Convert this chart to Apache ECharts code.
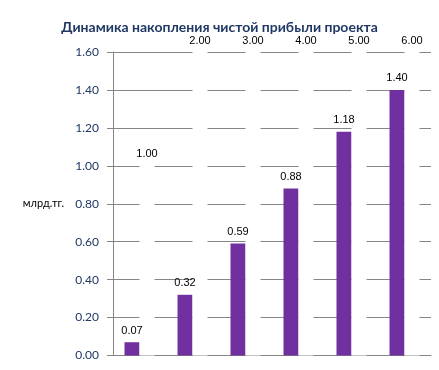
<!DOCTYPE html>
<html><head><meta charset="utf-8">
<script src="https://cdn.jsdelivr.net/npm/echarts@6/dist/echarts.min.js"></script>
<style>html,body{margin:0;padding:0;background:#fff}#c{width:439px;height:370px}</style>
</head><body><div id="c"></div>
<script>
const categories = ['1', '2', '3', '4', '5', '6'];
const profit = [0.07, 0.32, 0.59, 0.88, 1.18, 1.40];
const periods = [1.00, 2.00, 3.00, 4.00, 5.00, 6.00];
const yTicks = { min: 0, max: 1.6, interval: 0.2 };

const chart = echarts.init(document.getElementById('c'), null, { renderer: 'canvas' });
chart.setOption({
  animation: false,
  backgroundColor: '#fff',
  title: {
    text: 'Динамика накопления чистой прибыли проекта',
    left: 'center', top: 15,
    textStyle: { fontFamily: 'Lato', fontWeight: 'bold', fontSize: 14, color: '#1F3864' }
  },
  grid: { left: 113, right: 8, top: 52, bottom: 14.5, containLabel: false },
  xAxis: {
    type: 'category', data: categories,
    axisLine: { show: true, lineStyle: { color: '#868686', width: 1 } },
    axisTick: { show: false }, axisLabel: { show: false }, splitLine: { show: false }
  },
  yAxis: {
    type: 'value', min: yTicks.min, max: yTicks.max, interval: yTicks.interval,
    name: 'млрд.тг.', nameLocation: 'middle', nameRotate: 0, nameGap: 49,
    nameTextStyle: { fontFamily: 'Lato', fontSize: 11, color: '#000', align: 'right' },
    axisLine: { show: true, lineStyle: { color: '#868686', width: 1 } },
    axisTick: { show: true, length: 6, lineStyle: { color: '#868686' } },
    axisLabel: { margin: 14, fontFamily: 'Lato', fontSize: 12, color: '#1F3864',
      formatter: v => v.toFixed(2) },
    splitLine: { show: true, lineStyle: { color: '#868686', width: 1 } }
  },
  series: [
    {
      type: 'bar', data: profit, barWidth: 15, barGap: '0%',
      itemStyle: { color: '#7030A0' },
      label: { show: true, position: 'top', distance: 6, fontFamily: 'Liberation Sans', fontSize: 11, color: '#000',
        formatter: p => p.value.toFixed(2) }
    },
    {
      type: 'bar', data: periods, barWidth: 15, barGap: '0%', clip: true,
      itemStyle: { color: '#fff' },
      label: { show: true, position: 'top', distance: 6, fontFamily: 'Liberation Sans', fontSize: 11, color: '#000',
        formatter: p => p.value.toFixed(2) }
    }
  ]
});
</script></body></html>
